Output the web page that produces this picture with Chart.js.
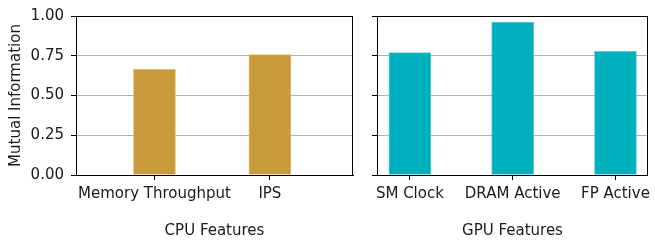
<!DOCTYPE html>
<html>
<head>
<meta charset="utf-8">
<script src="https://cdn.jsdelivr.net/npm/chart.js@4"></script>
<style>
  body { margin: 0; background: #fff; }
  #wrap { position: relative; width: 655px; height: 240px; }
  canvas { position: absolute; top: 0; }
</style>
</head>
<body>
<div id="wrap">
  <canvas id="cpuChart" width="360" height="240" style="left:0;width:360px;height:240px"></canvas>
  <canvas id="gpuChart" width="295" height="240" style="left:360px;width:295px;height:240px"></canvas>
</div>
<script>
const cpuLabels = ['Memory Throughput', 'IPS'];
const cpuValues = [0.665, 0.757];
const gpuLabels = ['SM Clock', 'DRAM Active', 'FP Active'];
const gpuValues = [0.770, 0.961, 0.778];
const yTicks = [0, 0.25, 0.5, 0.75, 1.0];

Chart.defaults.font.family = "'DejaVu Sans'";
Chart.defaults.font.size = 15;
Chart.defaults.color = '#1a1a1a';

// box round the plot area, like matplotlib spines
const frame = {
  id: 'frame',
  afterDraw(chart) {
    const { ctx, chartArea: a } = chart;
    ctx.save();
    ctx.strokeStyle = '#000';
    ctx.lineWidth = 1;
    ctx.strokeRect(Math.round(a.left) + 0.5, Math.round(a.top) + 0.5,
      Math.round(a.right - a.left) - 1, Math.round(a.bottom - a.top));
    ctx.restore();
  }
};

function makeChart(id, labels, values, opts) {
  const ctx = document.getElementById(id).getContext('2d');
  return new Chart(ctx, {
    type: 'bar',
    data: {
      datasets: [{
        data: values.map((v, i) => ({ x: i, y: v })),
        backgroundColor: opts.color,
        borderColor: opts.edge,
        borderWidth: 1,
        barThickness: 42
      }]
    },
    options: {
      responsive: false,
      animation: false,
      layout: { autoPadding: false, padding: { top: 13, right: opts.padRight, left: 0, bottom: 0 } },
      plugins: { legend: { display: false }, tooltip: { enabled: false } },
      scales: {
        x: {
          type: 'linear',
          offset: false,
          min: opts.xmin,
          max: opts.xmax,
          afterBuildTicks: s => { s.ticks = labels.map((_, i) => ({ value: i })); },
          afterFit: s => { s.height = 65; },
          ticks: { callback: v => labels[v], padding: 5, maxRotation: 0, autoSkip: false },
          grid: { offset: false, drawOnChartArea: false, tickLength: 5, tickColor: '#000' },
          border: { color: '#000' },
          title: { display: true, text: opts.title, padding: { top: 0, bottom: 0 } }
        },
        y: {
          min: 0,
          max: 1,
          z: 1,
          afterBuildTicks: s => { s.ticks = yTicks.map(v => ({ value: v })); },
          afterFit: s => { s.width = opts.yWidth; },
          ticks: { callback: v => opts.showY ? v.toFixed(2) : '', padding: 7 },
          grid: { color: '#b0b0b0', tickColor: '#000', tickLength: 5, lineWidth: 1 },
          border: { color: '#000' },
          title: { display: opts.showY, text: 'Mutual Information', padding: { top: 7, bottom: 0 } }
        }
      }
    },
    plugins: [frame]
  });
}

makeChart('cpuChart', cpuLabels, cpuValues, {
  color: '#c99a3a', edge: '#dcbb78', title: 'CPU Features',
  xmin: -0.68, xmax: 1.72, yWidth: 76, padRight: 7, showY: true
});
makeChart('gpuChart', gpuLabels, gpuValues, {
  color: '#00afbe', edge: '#5cc9d3', title: 'GPU Features',
  xmin: -0.32, xmax: 2.316, yWidth: 17, padRight: 1, showY: false
});
</script>
</body>
</html>
